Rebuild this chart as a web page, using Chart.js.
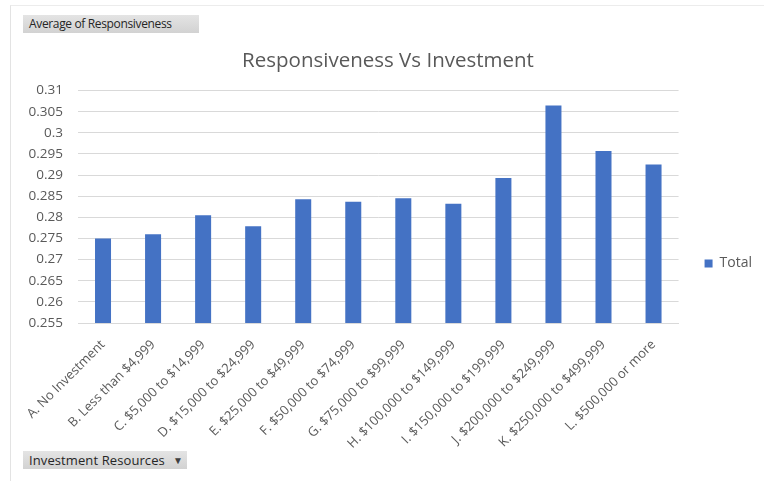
<!DOCTYPE html>
<html>
<head>
<meta charset="utf-8">
<script src="https://cdn.jsdelivr.net/npm/chart.js@4.4.1/dist/chart.umd.min.js"></script>
<style>
    html, body {
        margin: 0;
        padding: 0;
        background: #ffffff;
        width: 764px;
        height: 481px;
        overflow: hidden;
        font-family: 'Open Sans', sans-serif;
    }
    #frame {
        position: absolute;
        left: 10px;
        top: 5px;
        right: 0;
        bottom: 0;
        border-left: 1px solid #e3e3e3;
        border-top: 1px solid #ececec;
    }
    #chartBox {
        position: absolute;
        left: 0;
        top: 0;
        width: 764px;
        height: 481px;
    }
    .field-btn {
        position: absolute;
        left: 23px;
        height: 18px;
        line-height: 18px;
        padding: 0 5px 0 6px;
        background: linear-gradient(#e4e4e4, #d2d2d2);
        color: #262626;
        font-size: 12px;
        letter-spacing: -0.35px;
        white-space: nowrap;
    }
    #valueBtn { top: 15px; width: 165px; }
    #axisBtn { top: 451px; width: 153px; font-size: 13px; letter-spacing: 0.1px; }
    #axisBtn .arrow {
        font-size: 10px;
        margin-left: 8px;
        color: #404040;
        vertical-align: 1px;
    }
</style>
</head>
<body>
<div id="frame"></div>
<div id="chartBox"><canvas id="responseChart" width="764" height="481"></canvas></div>
<div class="field-btn" id="valueBtn">Average of Responsiveness</div>
<div class="field-btn" id="axisBtn">Investment Resources<span class="arrow">&#9660;</span></div>
<script>
// Investment brackets and mean responsiveness for each
const categories = [
    'A. No Investment',
    'B. Less than $4,999',
    'C. $5,000 to $14,999',
    'D. $15,000 to $24,999',
    'E. $25,000 to $49,999',
    'F. $50,000 to $74,999',
    'G. $75,000 to $99,999',
    'H. $100,000 to $149,999',
    'I. $150,000 to $199,999',
    'J. $200,000 to $249,999',
    'K. $250,000 to $499,999',
    'L. $500,000 or more'
];
const totals = [0.2750, 0.2760, 0.2805, 0.2779, 0.2843, 0.2837, 0.2845, 0.2832, 0.2893, 0.3065, 0.2957, 0.2925];
const yTicks = [0.255, 0.26, 0.265, 0.27, 0.275, 0.28, 0.285, 0.29, 0.295, 0.3, 0.305, 0.31];

const textColor = '#595959';
const fontFamily = "'Open Sans', sans-serif";

// nudge title and legend: title centred over the plot, legend beside the bars
const boxShift = {
    id: 'boxShift',
    afterLayout(chart) {
        const lg = chart.legend;
        if (lg) {
            lg.left += 12;
            lg.right += 12;
            lg.top += 38;
            lg.bottom += 38;
        }
        const tb = chart.titleBlock;
        if (tb) {
            tb.left += 13;
            tb.right += 13;
        }
    }
};

const ctx = document.getElementById('responseChart').getContext('2d');
new Chart(ctx, {
    type: 'bar',
    data: {
        labels: categories,
        datasets: [{
            label: 'Total',
            data: totals,
            backgroundColor: '#4472C4',
            borderWidth: 0,
            barPercentage: 0.32,
            categoryPercentage: 1.0
        }]
    },
    options: {
        responsive: false,
        animation: false,
        layout: {
            padding: { left: 0, right: 14, top: 0, bottom: 30 }
        },
        plugins: {
            title: {
                display: true,
                text: 'Responsiveness Vs Investment',
                color: textColor,
                font: { family: fontFamily, size: 20.5, weight: 'normal' },
                padding: { top: 49, bottom: 17 }
            },
            legend: {
                position: 'right',
                labels: {
                    color: textColor,
                    font: { family: fontFamily, size: 14 },
                    boxWidth: 8,
                    boxHeight: 8,
                    padding: 14
                }
            },
            tooltip: { enabled: false }
        },
        scales: {
            y: {
                min: 0.255,
                max: 0.31,
                afterFit: function(scale) {
                    scale.width = 78;
                },
                afterBuildTicks: function(scale) {
                    scale.ticks = yTicks.map(v => ({ value: v }));
                },
                ticks: {
                    color: textColor,
                    padding: 15,
                    font: { family: fontFamily, size: 13.5 },
                    callback: function(value) {
                        return String(+value.toFixed(3));
                    }
                },
                grid: {
                    color: '#d9d9d9',
                    drawTicks: false
                },
                border: { display: false }
            },
            x: {
                afterFit: function(scale) {
                    scale.height = 128;
                },
                ticks: {
                    color: textColor,
                    padding: 6,
                    minRotation: 45,
                    maxRotation: 45,
                    autoSkip: false,
                    font: { family: fontFamily, size: 13 }
                },
                grid: {
                    display: false
                },
                border: { color: '#d9d9d9' }
            }
        }
    },
    plugins: [boxShift]
});
</script>
</body>
</html>
